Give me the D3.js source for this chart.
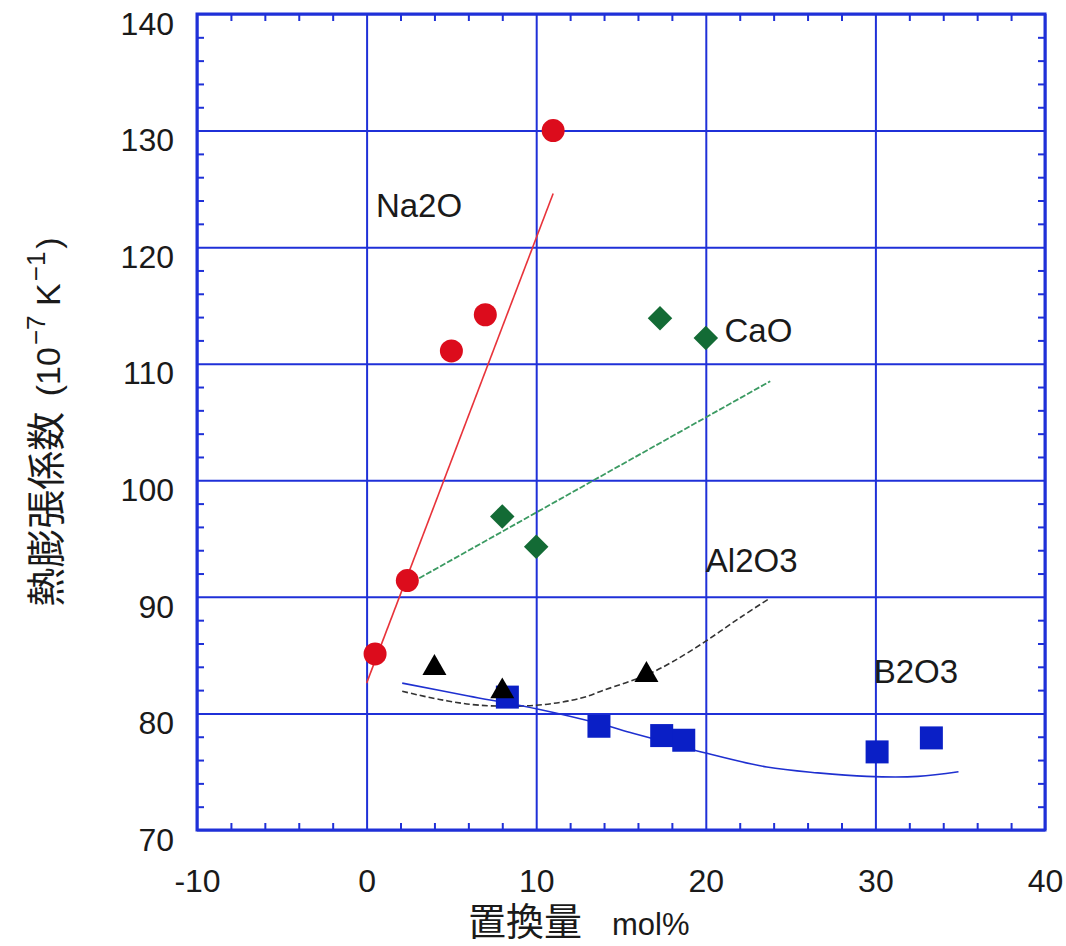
<!DOCTYPE html>
<html>
<head>
<meta charset="utf-8">
<script src="https://cdn.jsdelivr.net/npm/d3@7"></script>
<style>
  body { margin: 0; background: #fff; }
  text { font-family: "Liberation Sans", "Noto Sans CJK JP", sans-serif; fill: #1a1a1a; }
</style>
</head>
<body>
<div id="chart"></div>
<script>
// markers
var na2oX = [0.5, 2.4, 5.0, 7.0, 11.0];
var na2oY = [85.1, 91.4, 111.1, 114.2, 130.0];
var caoX = [8.0, 10.0, 17.3, 20.0];
var caoY = [96.9, 94.3, 113.9, 112.2];
var al2o3X = [4.0, 8.0, 16.5];
var al2o3Y = [83.9, 81.9, 83.3];
var b2o3X = [8.3, 13.7, 17.4, 18.7, 30.1, 33.3];
var b2o3Y = [81.4, 78.9, 78.1, 77.7, 76.7, 77.9];

// fitted lines / curves as drawn
var na2oFitX = [0.0, 11.0];
var na2oFitY = [82.6, 124.6];
var caoFitX = [3.1, 23.8];
var caoFitY = [91.6, 108.5];
var al2o3FitX = [2.1, 4.3, 6.7, 10.0, 12.6, 14.0, 16.5, 18.0, 20.0, 22.0, 23.8];
var al2o3FitY = [81.9, 81.2, 80.7, 80.7, 81.3, 82.0, 83.3, 84.4, 86.2, 88.2, 89.9];
var b2o3FitX = [2.1, 6.0, 10.0, 13.8, 15.7, 18.0, 20.0, 23.6, 26.6, 29.5, 32.5, 34.9];
var b2o3FitY = [82.6, 81.5, 80.4, 79.1, 78.3, 77.4, 76.6, 75.4, 74.9, 74.6, 74.6, 75.0];

var xTicks = [-10, 0, 10, 20, 30, 40];
var yTicks = [70, 80, 90, 100, 110, 120, 130, 140];
var xMinor = [-8, -6, -4, -2, 2, 4, 6, 8, 12, 14, 16, 18, 22, 24, 26, 28, 32, 34, 36, 38];
var yMinor = [72, 74, 76, 78, 82, 84, 86, 88, 92, 94, 96, 98, 102, 104, 106, 108, 112, 114, 116, 118, 122, 124, 126, 128, 132, 134, 136, 138];

// series labels: text, x, y (baseline)
var labelText = ["Na2O", "CaO", "Al2O3", "B2O3"];
var labelX = [0.55, 21.1, 20.0, 29.9];
var labelY = [122.6, 111.9, 92.1, 82.6];

var margin = {top: 14, left: 197},
    width = 848,
    height = 816;

var gridBlue = "#1f30d8";

var svg = d3.select("#chart").append("svg")
    .attr("width", 1066)
    .attr("height", 946);

var g = svg.append("g")
    .attr("transform", "translate(" + margin.left + "," + margin.top + ")");

var x = d3.scaleLinear().domain([-10, 40]).range([0, width]);
var y = d3.scaleLinear().domain([70, 140]).range([height, 0]);

function zip(xs, ys) {
  return xs.map(function(v, i) { return [v, ys[i]]; });
}

// grid
g.append("g")
    .attr("class", "grid")
    .attr("transform", "translate(0," + height + ")")
    .call(d3.axisBottom(x).tickValues(xTicks).tickSize(-height).tickFormat(""))
    .call(function(s) { s.select(".domain").remove(); })
    .selectAll("line").attr("stroke", gridBlue).attr("stroke-width", 2);

g.append("g")
    .attr("class", "grid")
    .call(d3.axisLeft(y).tickValues(yTicks).tickSize(-width).tickFormat(""))
    .call(function(s) { s.select(".domain").remove(); })
    .selectAll("line").attr("stroke", gridBlue).attr("stroke-width", 2);

// minor ticks on all four sides, pointing inward
function minor(axis, tr) {
  g.append("g")
      .attr("transform", tr)
      .call(axis)
      .call(function(s) { s.select(".domain").remove(); })
      .selectAll("line").attr("stroke", gridBlue).attr("stroke-width", 2);
}
minor(d3.axisBottom(x).tickValues(xMinor).tickSize(-7).tickFormat(""), "translate(0," + height + ")");
minor(d3.axisTop(x).tickValues(xMinor).tickSize(-7).tickFormat(""), "translate(0,0)");
minor(d3.axisLeft(y).tickValues(yMinor).tickSize(-7).tickFormat(""), "translate(0,0)");
minor(d3.axisRight(y).tickValues(yMinor).tickSize(-7).tickFormat(""), "translate(" + width + ",0)");

g.append("rect")
    .attr("width", width)
    .attr("height", height)
    .attr("fill", "none")
    .attr("stroke", gridBlue)
    .attr("stroke-width", 3);

// tick labels
var xAxis = g.append("g")
    .attr("transform", "translate(0," + height + ")")
    .call(d3.axisBottom(x).tickValues(xTicks).tickSize(0).tickFormat(function(d) { return String(d); }));
xAxis.select(".domain").remove();
xAxis.selectAll("text")
    .attr("y", 62).attr("dy", 0)
    .style("font-size", "32px");

var yAxis = g.append("g")
    .call(d3.axisLeft(y).tickValues(yTicks).tickSize(0).tickPadding(23));
yAxis.select(".domain").remove();
yAxis.selectAll("text")
    .attr("y", 10)
    .style("font-size", "32px");

// fit lines
var line = d3.line()
    .x(function(d) { return x(d[0]); })
    .y(function(d) { return y(d[1]); });
var curve = d3.line()
    .curve(d3.curveCatmullRom)
    .x(function(d) { return x(d[0]); })
    .y(function(d) { return y(d[1]); });

g.append("path").datum(zip(na2oFitX, na2oFitY))
    .attr("d", line).attr("fill", "none")
    .attr("stroke", "#e8333a").attr("stroke-width", 1.6);
g.append("path").datum(zip(caoFitX, caoFitY))
    .attr("d", line).attr("fill", "none")
    .attr("stroke", "#3b9a62").attr("stroke-width", 1.8)
    .attr("stroke-dasharray", "6,2");
g.append("path").datum(zip(al2o3FitX, al2o3FitY))
    .attr("d", curve).attr("fill", "none")
    .attr("stroke", "#333").attr("stroke-width", 1.6)
    .attr("stroke-dasharray", "6,3");
g.append("path").datum(zip(b2o3FitX, b2o3FitY))
    .attr("d", curve).attr("fill", "none")
    .attr("stroke", "#1f30d0").attr("stroke-width", 1.6);

// markers
g.append("g").selectAll("rect")
    .data(zip(b2o3X, b2o3Y))
  .enter().append("rect")
    .attr("x", function(d) { return x(d[0]) - 11.5; })
    .attr("y", function(d) { return y(d[1]) - 11.5; })
    .attr("width", 23).attr("height", 23)
    .attr("fill", "#0a1fc6");

g.append("g").selectAll("path")
    .data(zip(al2o3X, al2o3Y))
  .enter().append("path")
    .attr("d", d3.symbol().type(d3.symbolTriangle).size(250))
    .attr("transform", function(d) { return "translate(" + x(d[0]) + "," + y(d[1]) + ")"; })
    .attr("fill", "#000");

g.append("g").selectAll("path")
    .data(zip(caoX, caoY))
  .enter().append("path")
    .attr("d", d3.symbol().type(d3.symbolSquare).size(300))
    .attr("transform", function(d) { return "translate(" + x(d[0]) + "," + y(d[1]) + ") rotate(45)"; })
    .attr("fill", "#136b35");

g.append("g").selectAll("circle")
    .data(zip(na2oX, na2oY))
  .enter().append("circle")
    .attr("cx", function(d) { return x(d[0]); })
    .attr("cy", function(d) { return y(d[1]); })
    .attr("r", 11.5)
    .attr("fill", "#dc0c1c");

// series names
g.append("g").selectAll("text")
    .data(labelText)
  .enter().append("text")
    .attr("x", function(d, i) { return x(labelX[i]); })
    .attr("y", function(d, i) { return y(labelY[i]); })
    .style("font-size", "33px")
    .text(function(d) { return d; });

// axis titles
svg.append("text")
    .attr("x", 468)
    .attr("y", 935)
    .call(function(t) {
      t.append("tspan").style("font-size", "38px").text("置換量");
      t.append("tspan").attr("dx", 30).style("font-size", "31px").text("mol%");
    });

var yt = svg.append("text")
    .attr("transform", "translate(60," + (margin.top + height / 2) + ") rotate(-90)")
    .attr("text-anchor", "middle");
yt.append("tspan").style("font-size", "39px").text("熱膨張係数");
yt.append("tspan").style("font-size", "34px").attr("dx", 6).text(" (10");
yt.append("tspan").style("font-size", "26px").attr("dy", -15).attr("dx", 2).text("−7");
yt.append("tspan").style("font-size", "34px").attr("dy", 15).text(" K");
yt.append("tspan").style("font-size", "26px").attr("dy", -15).attr("dx", 2).text("−1");
yt.append("tspan").style("font-size", "34px").attr("dy", 15).attr("dx", 3).text(")");
</script>
</body>
</html>
